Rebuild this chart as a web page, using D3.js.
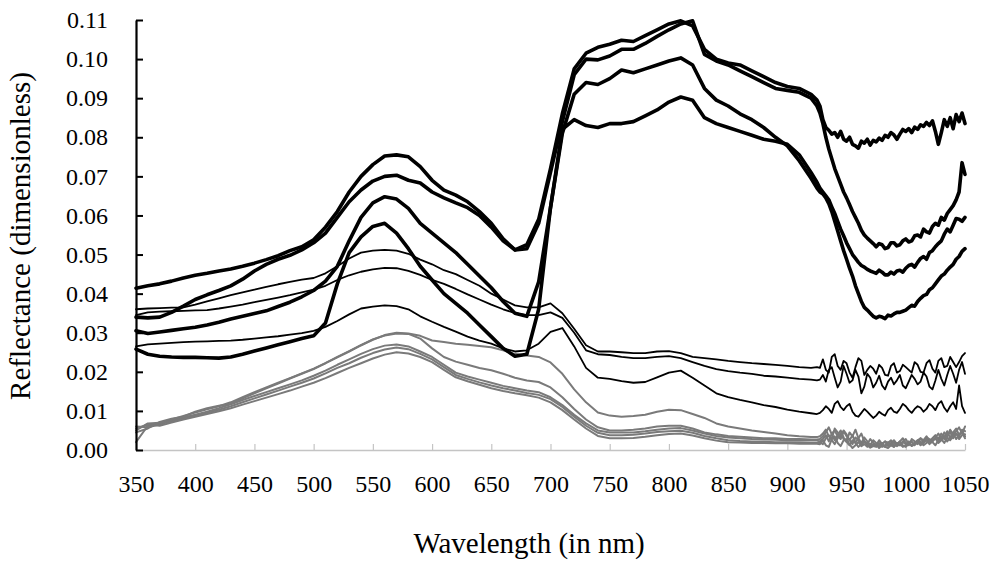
<!DOCTYPE html>
<html>
<head>
<meta charset="utf-8">
<script src="https://cdn.jsdelivr.net/npm/d3@7"></script>
<style>
  body { margin: 0; background: #fff; }
  svg { display: block; font-family: "Liberation Serif", "Times New Roman", serif; }
</style>
</head>
<body>
<div id="chart"></div>
<script>
// wavelengths (nm): 10 nm steps up to 920, then 2.5 nm through the noisy tail
const wavelengths = [
  350, 360, 370, 380, 390, 400, 410, 420, 430, 440,
  450, 460, 470, 480, 490, 500, 510, 520, 530, 540,
  550, 560, 570, 580, 590, 600, 610, 620, 630, 640,
  650, 660, 670, 680, 690, 700, 710, 720, 730, 740,
  750, 760, 770, 780, 790, 800, 810, 820, 830, 840,
  850, 860, 870, 880, 890, 900, 910, 920,
  925, 927.5, 930, 932.5, 935, 937.5, 940, 942.5, 945, 947.5,
  950, 952.5, 955, 957.5, 960, 962.5, 965, 967.5, 970, 972.5,
  975, 977.5, 980, 982.5, 985, 987.5, 990, 992.5, 995, 997.5,
  1000, 1002.5, 1005, 1007.5, 1010, 1012.5, 1015, 1017.5, 1020, 1022.5,
  1025, 1027.5, 1030, 1032.5, 1035, 1037.5, 1040, 1042.5, 1045, 1047.5,
  1050
]

// thick black spectra
const thickA = [
  0.0414, 0.042, 0.0425, 0.0432, 0.044, 0.0447, 0.0452, 0.0458, 0.0463, 0.047,
  0.0478, 0.0487, 0.0497, 0.051, 0.052, 0.0538, 0.057, 0.061, 0.066, 0.070,
  0.073, 0.0752, 0.0755, 0.075, 0.0725, 0.069, 0.0665, 0.0652, 0.0635, 0.061,
  0.058, 0.054, 0.0512, 0.0525, 0.059, 0.072, 0.086, 0.0975, 0.1015, 0.103,
  0.1038, 0.1048, 0.1045, 0.106, 0.1075, 0.109, 0.1098, 0.1085, 0.1025, 0.100,
  0.099, 0.0985, 0.097, 0.0955, 0.094, 0.093, 0.0925, 0.091,
  0.0895, 0.088, 0.0845, 0.0825, 0.0818, 0.0808, 0.0812, 0.080, 0.0815, 0.0795,
  0.079, 0.080, 0.0782, 0.0778, 0.0772, 0.079, 0.0785, 0.0795, 0.078, 0.0792,
  0.0788, 0.0798, 0.0792, 0.0805, 0.080, 0.0812, 0.0806, 0.0795, 0.0808, 0.082,
  0.0815, 0.0822, 0.0812, 0.0826, 0.082, 0.0832, 0.0828, 0.0838, 0.083, 0.0842,
  0.0815, 0.0782, 0.0812, 0.0845, 0.0828, 0.085, 0.0822, 0.0858, 0.084, 0.0862,
  0.0835
]
const thickB = [
  0.034, 0.0338, 0.034, 0.0352, 0.0368, 0.0385, 0.0397, 0.0408, 0.042, 0.0437,
  0.0458, 0.0475, 0.0488, 0.0498, 0.0512, 0.053, 0.0555, 0.0595, 0.0635, 0.0665,
  0.0688, 0.070, 0.0703, 0.069, 0.0683, 0.066, 0.0645, 0.0632, 0.062, 0.060,
  0.057, 0.0535, 0.0512, 0.0515, 0.058, 0.071, 0.084, 0.096, 0.100, 0.0998,
  0.1008, 0.1025, 0.1025, 0.104, 0.1058, 0.1075, 0.109, 0.1098, 0.1012, 0.0995,
  0.0985, 0.097, 0.0955, 0.094, 0.0925, 0.092, 0.0915, 0.090,
  0.088, 0.0862, 0.0835, 0.080, 0.077, 0.0745, 0.072, 0.070, 0.068, 0.066,
  0.0645, 0.0628, 0.061, 0.0595, 0.058, 0.0562, 0.055, 0.0542, 0.0535, 0.0528,
  0.052, 0.0528, 0.0525, 0.0515, 0.0518, 0.053, 0.053, 0.0522, 0.0525, 0.0535,
  0.054, 0.0532, 0.0535, 0.0548, 0.055, 0.0545, 0.0565, 0.0558, 0.0555, 0.0572,
  0.058, 0.0575, 0.0595, 0.0588, 0.0605, 0.0615, 0.0625, 0.064, 0.066, 0.0735,
  0.0705
]
const thickC = [
  0.0305, 0.0298, 0.0302, 0.0306, 0.031, 0.0314, 0.032, 0.0327, 0.0335, 0.0342,
  0.0349, 0.0356, 0.0367, 0.0378, 0.0392, 0.0408, 0.0432, 0.047, 0.0535, 0.0595,
  0.0632, 0.0648, 0.0642, 0.0618, 0.058, 0.0555, 0.053, 0.0505, 0.0475, 0.0445,
  0.0415, 0.038, 0.035, 0.0342, 0.043, 0.062, 0.081, 0.091, 0.094, 0.0935,
  0.095, 0.0972, 0.0965, 0.0975, 0.0985, 0.0995, 0.1003, 0.0985, 0.0925, 0.0895,
  0.088, 0.086, 0.0845, 0.0825, 0.080, 0.0778, 0.074, 0.0695,
  0.067, 0.066, 0.0655, 0.0645, 0.063, 0.061, 0.0585, 0.056, 0.0535, 0.051,
  0.0488, 0.0465, 0.0445, 0.042, 0.040, 0.038, 0.0365, 0.0358, 0.035, 0.0342,
  0.0338, 0.0342, 0.034, 0.0336, 0.0345, 0.0343, 0.0348, 0.0352, 0.0352, 0.0355,
  0.0358, 0.0364, 0.037, 0.0368, 0.038, 0.0388, 0.0395, 0.0398, 0.041, 0.0415,
  0.0425, 0.0435, 0.0445, 0.045, 0.046, 0.0468, 0.0475, 0.0488, 0.0495, 0.0508,
  0.0515
]
const thickD = [
  0.0258, 0.0245, 0.024, 0.0238, 0.0237, 0.0237, 0.0236, 0.0235, 0.0238, 0.0245,
  0.0253, 0.0261, 0.0269, 0.0277, 0.0285, 0.0292, 0.0325, 0.0425, 0.0505, 0.0545,
  0.0572, 0.058, 0.0555, 0.0515, 0.047, 0.0435, 0.040, 0.0375, 0.035, 0.032,
  0.029, 0.026, 0.024, 0.0245, 0.036, 0.062, 0.082, 0.0845, 0.083, 0.0825,
  0.0835, 0.0835, 0.084, 0.0855, 0.087, 0.089, 0.0903, 0.0895, 0.085, 0.0835,
  0.0825, 0.0815, 0.0805, 0.0795, 0.079, 0.0782, 0.0755, 0.071,
  0.0685, 0.067, 0.066, 0.065, 0.064, 0.0622, 0.0605, 0.0585, 0.0565, 0.0548,
  0.053, 0.0515, 0.050, 0.049, 0.048, 0.0472, 0.0468, 0.0462, 0.0458, 0.0455,
  0.0452, 0.046, 0.0455, 0.0448, 0.0448, 0.0455, 0.045, 0.0458, 0.046, 0.0455,
  0.0465, 0.0472, 0.0475, 0.0468, 0.048, 0.049, 0.0495, 0.0488, 0.0505, 0.051,
  0.052, 0.0528, 0.0535, 0.0552, 0.0565, 0.0558, 0.0575, 0.0592, 0.059, 0.0585,
  0.0595
]

// thin black spectra
const thinA = [
  0.036, 0.0362, 0.0363, 0.0364, 0.0365, 0.0372, 0.038, 0.0388, 0.0396, 0.0403,
  0.041, 0.0417, 0.0424, 0.043, 0.0436, 0.044, 0.0452, 0.047, 0.049, 0.0505,
  0.051, 0.0512, 0.051, 0.0502, 0.0487, 0.0475, 0.046, 0.045, 0.0435, 0.042,
  0.040, 0.0385, 0.037, 0.0365, 0.0365, 0.0375, 0.035, 0.031, 0.0268, 0.0252,
  0.0252, 0.025, 0.0248, 0.0248, 0.0252, 0.0253, 0.0248, 0.0238, 0.0235, 0.0232,
  0.0228, 0.0225, 0.0222, 0.022, 0.0218, 0.0215, 0.0212, 0.021,
  0.0212, 0.021, 0.0232, 0.0205, 0.0198, 0.0238, 0.0245, 0.0215, 0.0205, 0.0228,
  0.0222, 0.0198, 0.0185, 0.0212, 0.0235, 0.0228, 0.0192, 0.0205, 0.0215, 0.0208,
  0.0195, 0.0218, 0.021, 0.0192, 0.019, 0.0215, 0.0222, 0.0198, 0.0202, 0.0218,
  0.0212, 0.0205, 0.0198, 0.0225, 0.0218, 0.020, 0.0198, 0.0222, 0.023, 0.0208,
  0.0198, 0.0228, 0.0235, 0.0212, 0.0215, 0.0238, 0.0225, 0.0212, 0.0225, 0.024,
  0.0248
]
const thinB = [
  0.0345, 0.0352, 0.0354, 0.0355, 0.0356, 0.0357, 0.0358, 0.0362, 0.0367, 0.0372,
  0.0378, 0.0384, 0.039, 0.0396, 0.0403, 0.041, 0.042, 0.0435, 0.0447, 0.0456,
  0.0462, 0.0466, 0.0465, 0.0458, 0.0448, 0.0435, 0.0425, 0.0412, 0.0398, 0.0385,
  0.0372, 0.036, 0.035, 0.0345, 0.0345, 0.0352, 0.0338, 0.030, 0.0255, 0.0245,
  0.0243, 0.0238, 0.0235, 0.0235, 0.0238, 0.024, 0.0235, 0.0225, 0.0215, 0.0207,
  0.0202, 0.0198, 0.0195, 0.019, 0.0188, 0.0185, 0.0182, 0.018,
  0.0178, 0.018, 0.0192, 0.0175, 0.0205, 0.0212, 0.0185, 0.016, 0.0175, 0.0215,
  0.0195, 0.0172, 0.0178, 0.0205, 0.0188, 0.0145, 0.0162, 0.0195, 0.0185, 0.016,
  0.0172, 0.019, 0.0165, 0.0155, 0.0175, 0.0185, 0.0168, 0.0178, 0.0192, 0.0165,
  0.0158, 0.0175, 0.0192, 0.0182, 0.0168, 0.0175, 0.0198, 0.0188, 0.0162, 0.0155,
  0.0178, 0.0205, 0.0182, 0.0165, 0.0192, 0.0215, 0.0195, 0.0172, 0.0205, 0.0225,
  0.0195
]
const thinC = [
  0.0265, 0.027, 0.0272, 0.0274, 0.0276, 0.0277, 0.0278, 0.0279, 0.028, 0.0282,
  0.0285, 0.0288, 0.0291, 0.0295, 0.0299, 0.0305, 0.0315, 0.033, 0.0347, 0.0362,
  0.0367, 0.037, 0.0368, 0.036, 0.0342, 0.0328, 0.0315, 0.0303, 0.029, 0.028,
  0.0272, 0.026, 0.0252, 0.0255, 0.0272, 0.0302, 0.0312, 0.0265, 0.021, 0.0185,
  0.0182, 0.0176, 0.0172, 0.0174, 0.0186, 0.0198, 0.0203, 0.0185, 0.0165, 0.0145,
  0.0135, 0.0128, 0.0122, 0.0115, 0.011, 0.0103, 0.0098, 0.0094,
  0.0092, 0.0095, 0.0102, 0.0112, 0.0105, 0.0095, 0.0118, 0.0125, 0.011, 0.0102,
  0.0112, 0.0118, 0.0098, 0.0088, 0.0085, 0.0095, 0.0105, 0.0098, 0.009, 0.0082,
  0.0088, 0.0098, 0.0092, 0.0088, 0.0102, 0.0108, 0.0098, 0.0095, 0.0105, 0.0118,
  0.0112, 0.0102, 0.0095, 0.0105, 0.0112, 0.0108, 0.0098, 0.0105, 0.0118, 0.0112,
  0.0102, 0.0118, 0.0125, 0.0108, 0.0098, 0.0112, 0.0122, 0.0105, 0.0165, 0.0112,
  0.0095
]

// grey spectra
const greyA = [
  0.002, 0.0062, 0.0068, 0.0078, 0.0087, 0.0096, 0.0104, 0.0112, 0.0122, 0.0135,
  0.0148, 0.016, 0.0172, 0.0184, 0.0196, 0.0208, 0.0222, 0.0237, 0.0252, 0.0268,
  0.0282, 0.0294, 0.030, 0.0298, 0.0292, 0.028, 0.0276, 0.0272, 0.0269, 0.0266,
  0.0263, 0.0255, 0.0246, 0.0242, 0.0238, 0.0224, 0.0195, 0.0155, 0.0122, 0.0096,
  0.0088, 0.0085, 0.0087, 0.009, 0.0098, 0.0103, 0.0102, 0.0092, 0.0082, 0.0068,
  0.006, 0.0055, 0.005, 0.0046, 0.0042, 0.0038, 0.0035, 0.0033,
  0.0033, 0.0035, 0.0042, 0.0052, 0.0035, 0.0028, 0.0055, 0.0045, 0.0032, 0.005,
  0.004, 0.0025, 0.0038, 0.0018, 0.003, 0.0042, 0.0022, 0.0015, 0.0028, 0.0018,
  0.0012, 0.0025, 0.0015, 0.0022, 0.001, 0.0018, 0.0025, 0.0015, 0.0022, 0.003,
  0.0018, 0.0012, 0.0028, 0.0022, 0.0018, 0.003, 0.0025, 0.0035, 0.0022, 0.003,
  0.0038, 0.0028, 0.0042, 0.0032, 0.0048, 0.003, 0.0045, 0.0055, 0.0038, 0.005,
  0.0035
]
const greyB = [
  0.0045, 0.0055, 0.0072, 0.008, 0.0085, 0.0098, 0.0107, 0.0113, 0.0118, 0.0132,
  0.0145, 0.0158, 0.017, 0.0183, 0.0195, 0.0207, 0.0222, 0.0238, 0.0253, 0.0268,
  0.0283, 0.0293, 0.0298, 0.0297, 0.0285, 0.026, 0.0238, 0.0226, 0.0218, 0.021,
  0.0204, 0.0195, 0.0185, 0.0178, 0.0174, 0.016, 0.0135, 0.0105, 0.0078, 0.0058,
  0.005, 0.005, 0.0052, 0.0055, 0.006, 0.0062, 0.0062, 0.0055, 0.0045, 0.004,
  0.0036, 0.0034, 0.0032, 0.003, 0.003, 0.0028, 0.0028, 0.0027,
  0.0027, 0.0028, 0.0035, 0.0045, 0.0058, 0.004, 0.0025, 0.0038, 0.005, 0.0032,
  0.0022, 0.0045, 0.0035, 0.0052, 0.003, 0.0018, 0.0032, 0.0022, 0.0012, 0.0025,
  0.0018, 0.0008, 0.0015, 0.0022, 0.0018, 0.0025, 0.001, 0.0018, 0.0012, 0.0022,
  0.0028, 0.0015, 0.0022, 0.0012, 0.0025, 0.003, 0.002, 0.0032, 0.0028, 0.0022,
  0.0032, 0.0042, 0.0028, 0.0045, 0.0035, 0.0052, 0.004, 0.0048, 0.0058, 0.0042,
  0.006
]
const greyC = [
  0.006, 0.0058, 0.0065, 0.0075, 0.0083, 0.009, 0.0098, 0.0107, 0.0117, 0.0128,
  0.0138, 0.0148, 0.0158, 0.0168, 0.0178, 0.019, 0.0203, 0.0218, 0.0232, 0.0246,
  0.0258, 0.0267, 0.027, 0.0265, 0.0252, 0.0238, 0.0218, 0.0198, 0.0188, 0.018,
  0.0172, 0.0164, 0.0158, 0.0152, 0.0148, 0.0135, 0.0115, 0.009, 0.0068, 0.005,
  0.0045, 0.0045, 0.0045, 0.0048, 0.0052, 0.0055, 0.0056, 0.005, 0.0042, 0.0036,
  0.0032, 0.003, 0.0028, 0.0027, 0.0026, 0.0025, 0.0024, 0.0024,
  0.0024, 0.0022, 0.0028, 0.0038, 0.0022, 0.0042, 0.005, 0.0035, 0.0028, 0.0048,
  0.0035, 0.0025, 0.0015, 0.0032, 0.0025, 0.0012, 0.0022, 0.0015, 0.0008, 0.0015,
  0.001, 0.0018, 0.0008, 0.0012, 0.002, 0.0015, 0.0008, 0.0018, 0.0012, 0.002,
  0.0015, 0.0022, 0.0012, 0.0018, 0.0025, 0.0015, 0.0022, 0.0028, 0.0018, 0.0025,
  0.003, 0.0022, 0.0035, 0.0028, 0.0038, 0.0045, 0.003, 0.0042, 0.0035, 0.0052,
  0.0048
]
const greyD = [
  0.005, 0.0068, 0.007, 0.0072, 0.008, 0.0088, 0.0095, 0.0103, 0.0112, 0.0122,
  0.0132, 0.0142, 0.0152, 0.0162, 0.0172, 0.0183, 0.0196, 0.021, 0.0222, 0.0236,
  0.0248, 0.0257, 0.0262, 0.0258, 0.0246, 0.0232, 0.0212, 0.0192, 0.0182, 0.0173,
  0.0165, 0.0158, 0.0152, 0.0146, 0.0141, 0.013, 0.011, 0.0085, 0.0062, 0.0044,
  0.0038, 0.0038, 0.0039, 0.0042, 0.0046, 0.0048, 0.0049, 0.0044, 0.0036, 0.003,
  0.0025, 0.0023, 0.0022, 0.0021, 0.002, 0.002, 0.0019, 0.0018,
  0.0018, 0.002, 0.0015, 0.003, 0.0038, 0.0025, 0.0015, 0.003, 0.0042, 0.0028,
  0.002, 0.0012, 0.0025, 0.0018, 0.0008, 0.0015, 0.0022, 0.0012, 0.0006, 0.001,
  0.0015, 0.0005, 0.0012, 0.0008, 0.0015, 0.0012, 0.002, 0.001, 0.0015, 0.0008,
  0.0012, 0.0018, 0.001, 0.0015, 0.0022, 0.0012, 0.0018, 0.0025, 0.0015, 0.0022,
  0.003, 0.0018, 0.0025, 0.0035, 0.0022, 0.0032, 0.0042, 0.0028, 0.0038, 0.0045,
  0.003
]
const greyE = [
  0.0055, 0.0065, 0.0062, 0.007, 0.0078, 0.0085, 0.0092, 0.0099, 0.0107, 0.0116,
  0.0125, 0.0134, 0.0143, 0.0152, 0.0162, 0.0172, 0.0184, 0.0197, 0.021, 0.0222,
  0.0234, 0.0244, 0.025, 0.0247, 0.0238, 0.0225, 0.0205, 0.0186, 0.0176, 0.0167,
  0.0158, 0.0151, 0.0145, 0.014, 0.0134, 0.0122, 0.0102, 0.0078, 0.0055, 0.0036,
  0.003, 0.003, 0.0031, 0.0034, 0.0038, 0.0041, 0.0042, 0.0037, 0.003, 0.0024,
  0.002, 0.0019, 0.0018, 0.0018, 0.0017, 0.0017, 0.0016, 0.0016,
  0.0016, 0.0015, 0.0025, 0.0012, 0.0008, 0.0028, 0.0035, 0.0018, 0.001, 0.0025,
  0.0028, 0.0015, 0.0005, 0.0012, 0.002, 0.001, 0.0015, 0.0008, 0.0015, 0.001,
  0.0008, 0.0012, 0.0018, 0.0008, 0.0005, 0.0012, 0.0008, 0.0015, 0.0022, 0.0012,
  0.0008, 0.0015, 0.0012, 0.0018, 0.0015, 0.0022, 0.0012, 0.0018, 0.0025, 0.002,
  0.0012, 0.0025, 0.0028, 0.0018, 0.0032, 0.0025, 0.0035, 0.0042, 0.0028, 0.0038,
  0.004
]

const xTicks = [350, 400, 450, 500, 550, 600, 650, 700, 750, 800, 850, 900, 950, 1000, 1050]
const yTicks = [0, 0.01, 0.02, 0.03, 0.04, 0.05, 0.06, 0.07, 0.08, 0.09, 0.10, 0.11]

const width = 1000
const height = 571
const plot = { left: 136, right: 965, top: 20, bottom: 450 }
const serif = '"Liberation Serif", "Times New Roman", serif'

const svg = d3.select('#chart')
  .append('svg')
  .attr('width', width)
  .attr('height', height)

const xScale = d3.scaleLinear().domain([350, 1050]).range([plot.left, plot.right])
const yScale = d3.scaleLinear().domain([0, 0.11]).range([plot.bottom, plot.top])

// x axis: light grey line, ticks pointing up into the plot
const xAxis = svg.append('g')
  .attr('transform', `translate(0,${plot.bottom})`)
  .call(d3.axisBottom(xScale)
    .tickValues(xTicks)
    .tickSizeInner(-6)
    .tickSizeOuter(0)
    .tickPadding(25)
    .tickFormat(d3.format('d')))
xAxis.select('.domain').attr('stroke', '#c4c4c4').attr('stroke-width', 1.5)
xAxis.selectAll('.tick line').attr('stroke', '#c4c4c4').attr('stroke-width', 1.2)
xAxis.selectAll('.tick text')
  .attr('fill', '#000')
  .style('font-size', '24px')
  .style('font-family', serif)

const series = [
  { values: greyA, colour: '#7a7a7a', w: 2 },
  { values: greyB, colour: '#7a7a7a', w: 2 },
  { values: greyC, colour: '#7a7a7a', w: 2 },
  { values: greyD, colour: '#7a7a7a', w: 2 },
  { values: greyE, colour: '#7a7a7a', w: 2 },
  { values: thinC, colour: '#000', w: 1.8 },
  { values: thinB, colour: '#000', w: 1.8 },
  { values: thinA, colour: '#000', w: 1.8 },
  { values: thickD, colour: '#000', w: 3.6 },
  { values: thickC, colour: '#000', w: 3.6 },
  { values: thickB, colour: '#000', w: 3.6 },
  { values: thickA, colour: '#000', w: 3.6 }
]

const line = d3.line()
  .x((d, i) => xScale(wavelengths[i]))
  .y(d => yScale(d))

svg.append('g')
  .selectAll('path')
  .data(series)
  .enter()
  .append('path')
  .attr('d', d => line(d.values))
  .attr('fill', 'none')
  .attr('stroke', d => d.colour)
  .attr('stroke-width', d => d.w)
  .attr('stroke-linejoin', 'round')
  .attr('stroke-linecap', 'round')

// y axis: black line, ticks pointing right into the plot
const yAxis = svg.append('g')
  .attr('transform', `translate(${plot.left},0)`)
  .call(d3.axisLeft(yScale)
    .tickValues(yTicks)
    .tickSizeInner(-7)
    .tickSizeOuter(0)
    .tickPadding(28)
    .tickFormat(d3.format('.2f')))
yAxis.select('.domain').attr('stroke', '#000').attr('stroke-width', 2.2)
yAxis.selectAll('.tick line').attr('stroke', '#000').attr('stroke-width', 2)
yAxis.selectAll('.tick text')
  .attr('fill', '#000')
  .style('font-size', '24px')
  .style('font-family', serif)

svg.append('text')
  .attr('x', 529)
  .attr('y', 553)
  .attr('text-anchor', 'middle')
  .style('font-size', '29px')
  .style('font-family', serif)
  .text('Wavelength (in nm)')

svg.append('text')
  .attr('transform', 'translate(30,236) rotate(-90)')
  .attr('text-anchor', 'middle')
  .style('font-size', '29px')
  .style('font-family', serif)
  .text('Reflectance (dimensionless)')
</script>
</body>
</html>
